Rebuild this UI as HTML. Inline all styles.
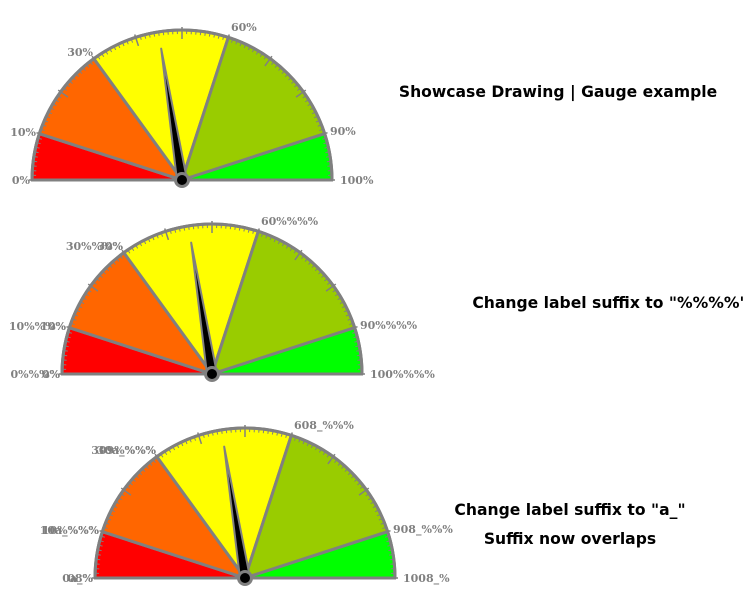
<!DOCTYPE html>
<html><head><meta charset="utf-8"><style>
body{margin:0;background:#fff;width:743px;height:600px;overflow:hidden}
svg{position:absolute;left:0;top:0}
.t{font:bold 15.6px "DejaVu Sans","Liberation Sans",sans-serif;fill:#000}
.l{font:bold 11px "DejaVu Serif","Liberation Serif",serif;fill:#808080}
</style></head><body>
<svg id="s" width="743" height="600" xmlns="http://www.w3.org/2000/svg">
<text class="t" x="558" y="97" text-anchor="middle">Showcase Drawing | Gauge example</text>
<text class="t" x="610" y="308" text-anchor="middle">Change label suffix to "%%%%"</text>
<text class="t" x="570" y="515" text-anchor="middle">Change label suffix to "a_"</text>
<text class="t" x="570" y="544" text-anchor="middle">Suffix now overlaps</text>
</svg>
<script>
var s=document.getElementById('s'),NS='http://www.w3.org/2000/svg';
function el(n,a,txt){var e=document.createElementNS(NS,n);for(var k in a)e.setAttribute(k,a[k]);if(txt!=null)e.textContent=txt;s.appendChild(e);return e;}
function pt(cx,cy,r,v){var a=Math.PI*(1-v/100);return [cx+r*Math.cos(a),cy-r*Math.sin(a)];}
function gauge(cx,cy,labels){
 var R=150,segs=[[0,10,'#ff0000'],[10,30,'#ff6600'],[30,60,'#ffff00'],[60,90,'#99cc00'],[90,100,'#00ff00']];
 segs.forEach(function(g){var a=pt(cx,cy,R,g[0]),b=pt(cx,cy,R,g[1]);
  el('path',{d:'M'+cx+','+cy+' L'+a+' A'+R+','+R+' 0 0 1 '+b+' Z',fill:g[2],stroke:'#808080','stroke-width':3,'stroke-linejoin':'round'});});
 for(var i=0;i<=100;i++){var maj=i%10==0;var a=pt(cx,cy,R+(maj?3:0),i),b=pt(cx,cy,R-(maj?9:4),i);
  el('line',{x1:a[0],y1:a[1],x2:b[0],y2:b[1],stroke:'#808080','stroke-width':maj?1.5:1});}
 el('path',{d:'M'+(cx-R)+','+cy+' A'+R+','+R+' 0 0 1 '+(cx+R)+','+cy,fill:'none',stroke:'#808080','stroke-width':3});
 el('line',{x1:cx-R-1,y1:cy,x2:cx+R+1,y2:cy,stroke:'#808080','stroke-width':3});
 var v=45,ang=Math.PI*(1-v/100),t=pt(cx,cy,133,v),px=Math.sin(ang)*5,py=Math.cos(ang)*5;
 el('polygon',{points:t+' '+(cx+px)+','+(cy+py)+' '+(cx-px)+','+(cy-py),fill:'#000',stroke:'#808080','stroke-width':2,'stroke-linejoin':'round'});
 el('circle',{cx:cx,cy:cy,r:6.5,fill:'#000',stroke:'#808080','stroke-width':3});
 var pos=[[-152,4,'end'],[-146,-44,'end'],[-89,-124,'end'],[49,-149,'start'],[148,-45,'start'],[158,4,'start']];
 labels.forEach(function(L,i){L.forEach(function(txt){el('text',{class:'l',x:cx+pos[i][0],y:cy+pos[i][1],'text-anchor':pos[i][2]},txt);});});
}
gauge(182,180,[['0%'],['10%'],['30%'],['60%'],['90%'],['100%']]);
gauge(212,374,[['0%%%%','0%'],['10%%%%','10%'],['30%%%%','30%'],['60%%%%'],['90%%%%'],['100%%%%']]);
gauge(245,578,[['0a_%','08%'],['10a_%%%','10%%%%'],['30a_%%%','309%%%%'],['608_%%%'],['908_%%%'],['1008_%']]);
</script>
</body></html>
